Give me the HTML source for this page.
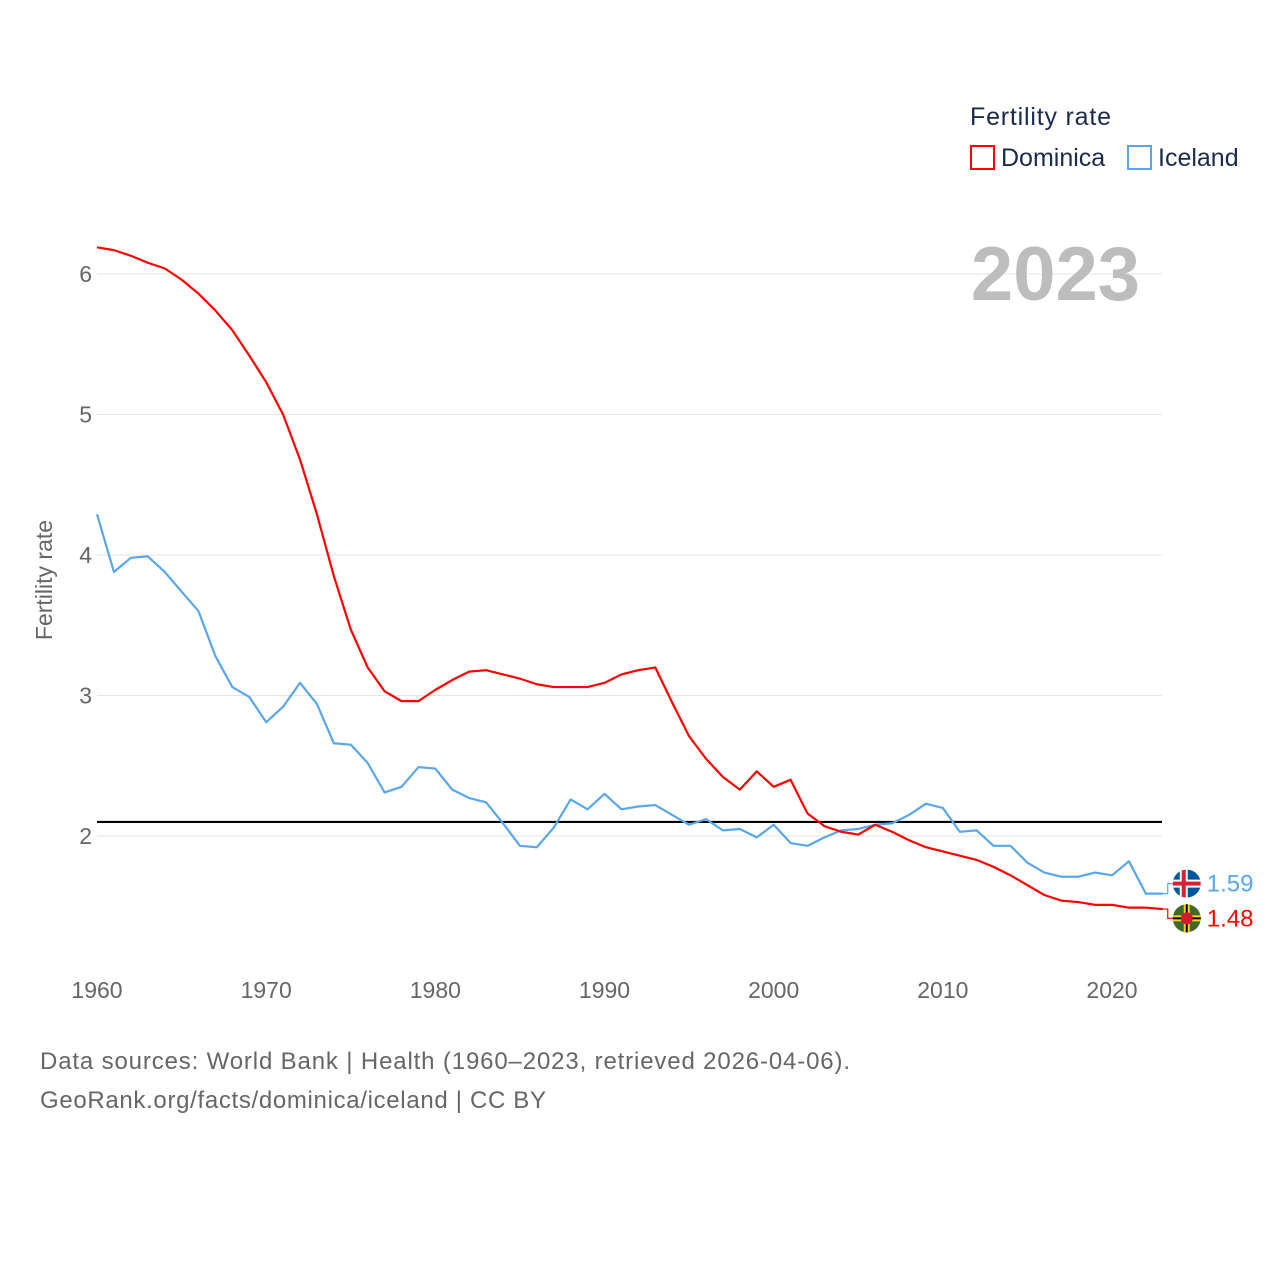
<!DOCTYPE html>
<html><head><meta charset="utf-8"><style>
body{margin:0;background:#fff;}
svg text{font-family:"Liberation Sans",sans-serif;}
</style></head><body>
<svg width="1280" height="1280" viewBox="0 0 1280 1280" xmlns="http://www.w3.org/2000/svg" id="chart">
<g id="grid"></g>
<g id="yticks"></g>
<g id="xticks"></g>
<text x="52" y="580" font-size="23" fill="#666" text-anchor="middle" transform="rotate(-90 52 580)">Fertility rate</text>
<text x="1140" y="300" font-size="76" font-weight="bold" fill="#bdbdbd" text-anchor="end">2023</text>
<g>
<text x="970" y="125" font-size="25" fill="#1a2b4a" textLength="141">Fertility rate</text>
<rect x="971" y="146" width="23" height="23" fill="none" stroke="#f00" stroke-width="2"/>
<text x="1001" y="166" font-size="25" fill="#1a2b4a">Dominica</text>
<rect x="1128" y="146" width="23" height="23" fill="none" stroke="#5aa6ea" stroke-width="2"/>
<text x="1158" y="166" font-size="25" fill="#1a2b4a">Iceland</text>
</g>
<g id="series"></g>
<text x="40" y="1069" font-size="24" fill="#666" textLength="810">Data sources: World Bank | Health (1960–2023, retrieved 2026-04-06).</text>
<text x="40" y="1108" font-size="24" fill="#666" textLength="506">GeoRank.org/facts/dominica/iceland | CC BY</text>
</svg>
<script>
const years=[];for(let y=1960;y<=2023;y++)years.push(y);
const dominica=[6.19,6.17,6.13,6.08,6.04,5.96,5.86,5.74,5.60,5.42,5.23,5.00,4.68,4.29,3.85,3.47,3.20,3.03,2.96,2.96,3.04,3.11,3.17,3.18,3.15,3.12,3.08,3.06,3.06,3.06,3.09,3.15,3.18,3.20,2.95,2.71,2.55,2.42,2.33,2.46,2.35,2.40,2.16,2.07,2.03,2.01,2.08,2.03,1.97,1.92,1.89,1.86,1.83,1.78,1.72,1.65,1.58,1.54,1.53,1.51,1.51,1.49,1.49,1.48];
const iceland=[4.29,3.88,3.98,3.99,3.88,3.74,3.60,3.28,3.06,2.99,2.81,2.92,3.09,2.94,2.66,2.65,2.52,2.31,2.35,2.49,2.48,2.33,2.27,2.24,2.09,1.93,1.92,2.06,2.26,2.19,2.30,2.19,2.21,2.22,2.15,2.08,2.12,2.04,2.05,1.99,2.08,1.95,1.93,1.99,2.04,2.05,2.08,2.09,2.15,2.23,2.20,2.03,2.04,1.93,1.93,1.81,1.74,1.71,1.71,1.74,1.72,1.82,1.59,1.59];
const yTicks=[2,3,4,5,6];
const xTicks=[1960,1970,1980,1990,2000,2010,2020];
const replacement=[2.1];
const NS="http://www.w3.org/2000/svg";
const X=v=>97+(v-1960)*(1015/60);
const Y=v=>836-(v-2)*140.5;
function mk(t,a,p){const e=document.createElementNS(NS,t);for(const k in a)e.setAttribute(k,a[k]);p.appendChild(e);return e;}
const grid=document.getElementById('grid'),yt=document.getElementById('yticks'),xt=document.getElementById('xticks'),s=document.getElementById('series');
yTicks.forEach(v=>{
 const l=mk('line',{x1:97,x2:1162,y1:Y(v),y2:Y(v),stroke:'#e6e6e6','stroke-width':1},grid);
 
 
 const t=mk('text',{x:92,y:Y(v)+8,'font-size':23,fill:'#666','text-anchor':'end'},yt);t.textContent=v;
 
 
});
xTicks.forEach(v=>{
 const t=mk('text',{x:X(v),y:998,'font-size':23,fill:'#666','text-anchor':'middle'},xt);t.textContent=v;
 
 
});
const rl=mk('line',{x1:97,x2:1162,y1:Y(replacement[0]),y2:Y(replacement[0]),stroke:'#000','stroke-width':2.2},s);


function line(d,c,n){
 const p=mk('polyline',{points:d.map((v,i)=>X(years[i])+','+Y(v)).join(' '),fill:'none',stroke:c,'stroke-width':2.2,'stroke-linejoin':'round'},s);
 
 
}
line(iceland,'#5aa6ea','iceland-line');
line(dominica,'#f00','dominica-line');
const lx=X(2023);
const iy=Y(iceland[iceland.length-1]),dy=Y(dominica[dominica.length-1]);
const iyL=Math.min(iy-10,(iy+dy)/2-17),dyL=Math.max(dy+8,(iy+dy)/2+17);
mk('polyline',{points:`${lx},${iy} ${lx+5},${iy} ${lx+5},${iyL} ${lx+12},${iyL}`,fill:'none',stroke:'#5aa6ea','stroke-width':1.2},s);
mk('polyline',{points:`${lx},${dy} ${lx+5},${dy} ${lx+5},${dyL} ${lx+12},${dyL}`,fill:'none',stroke:'#f00','stroke-width':1.2},s);
const fi=mk('g',{},s);
mk('clipPath',{id:'ci'},fi).appendChild(document.createElementNS(NS,'circle'));
const ci=fi.querySelector('circle');ci.setAttribute('cx',lx+24);ci.setAttribute('cy',iyL);ci.setAttribute('r',14);
const gi=mk('g',{'clip-path':'url(#ci)'},fi);
mk('rect',{x:lx+10,y:iyL-14,width:28,height:28,fill:'#02529c'},gi);
mk('rect',{x:lx+10,y:iyL-4,width:28,height:8,fill:'#fff'},gi);
mk('rect',{x:lx+17,y:iyL-14,width:8,height:28,fill:'#fff'},gi);
mk('rect',{x:lx+10,y:iyL-2,width:28,height:4,fill:'#dc1e35'},gi);
mk('rect',{x:lx+19,y:iyL-14,width:4,height:28,fill:'#dc1e35'},gi);
const fd=mk('g',{},s);
mk('circle',{cx:lx+24,cy:dyL,r:14,fill:'#3f6b2a'},fd);
mk('rect',{x:lx+10,y:dyL-3,width:28,height:6,fill:'#fcd116'},fd);
mk('rect',{x:lx+21,y:dyL-14,width:6,height:28,fill:'#fcd116'},fd);
mk('rect',{x:lx+10,y:dyL-1,width:28,height:2,fill:'#000'},fd);
mk('rect',{x:lx+23,y:dyL-14,width:2,height:28,fill:'#000'},fd);
mk('circle',{cx:lx+24,cy:dyL,r:6,fill:'#d41c30'},fd);
const ti=mk('text',{x:lx+44,y:iyL+8,'font-size':24,fill:'#5aa6ea'},s);ti.textContent=iceland[iceland.length-1].toFixed(2);


const td=mk('text',{x:lx+44,y:dyL+8,'font-size':24,fill:'#f00'},s);td.textContent=dominica[dominica.length-1].toFixed(2);


</script>
</body></html>
